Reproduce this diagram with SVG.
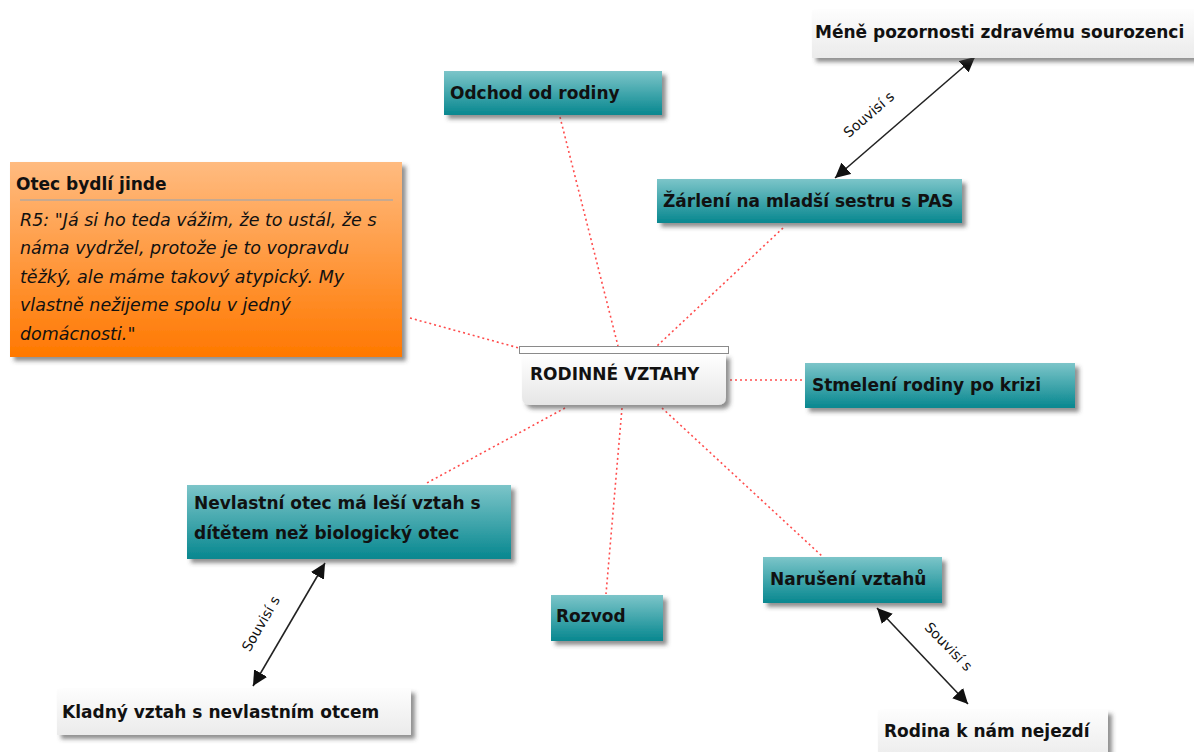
<svg xmlns="http://www.w3.org/2000/svg" width="1194" height="752" viewBox="0 0 1194 752">
  <defs>
    <linearGradient id="teal" x1="0" y1="0" x2="0" y2="1">
      <stop offset="0" stop-color="#7cc5c9"/>
      <stop offset="1" stop-color="#07878f"/>
    </linearGradient>
    <linearGradient id="orange" x1="0" y1="0" x2="0" y2="1">
      <stop offset="0" stop-color="#ffbb80"/>
      <stop offset="1" stop-color="#ff7800"/>
    </linearGradient>
    <linearGradient id="grey" x1="0" y1="0" x2="0" y2="1">
      <stop offset="0" stop-color="#fdfdfd"/>
      <stop offset="1" stop-color="#ebebeb"/>
    </linearGradient>
    <linearGradient id="core" x1="0" y1="0" x2="0" y2="1">
      <stop offset="0" stop-color="#ffffff"/>
      <stop offset="1" stop-color="#e6e6e6"/>
    </linearGradient>
    <filter id="shadow" x="-10%" y="-20%" width="125%" height="150%">
      <feDropShadow dx="4" dy="4" stdDeviation="2" flood-color="#444" flood-opacity="0.6"/>
    </filter>
    <marker id="head" viewBox="0 0 10 10" refX="10" refY="5" markerWidth="15" markerHeight="15" markerUnits="userSpaceOnUse" orient="auto-start-reverse">
      <path d="M0,0 L10,5 L0,10 Z" fill="#111"/>
    </marker>
    <style>
      .lbl { font-family: "DejaVu Sans", "Noto Sans", sans-serif; font-weight: bold; font-size: 17px; fill: #111; }
      .quote { font-family: "DejaVu Sans", "Noto Sans", sans-serif; font-style: italic; font-size: 17.5px; fill: #111; }
      .rel { font-family: "DejaVu Sans", "Noto Sans", sans-serif; font-size: 14px; fill: #111; }
      .dot { stroke: #ff4d4d; stroke-width: 1.6; stroke-dasharray: 2 3; fill: none; }
      .link { stroke: #222; stroke-width: 1.6; fill: none; marker-start: url(#head); marker-end: url(#head); }
      .tealbox { fill: url(#teal); filter: url(#shadow); }
      .greybox { fill: url(#grey); filter: url(#shadow); }
    </style>
  </defs>

  <!-- connectors -->
  <g id="connectors">
    <line class="dot" x1="410" y1="318" x2="519" y2="348"/>
    <line class="dot" x1="560" y1="117" x2="618" y2="346"/>
    <line class="dot" x1="783" y1="228" x2="657" y2="346"/>
    <line class="dot" x1="730" y1="380" x2="805" y2="380"/>
    <line class="dot" x1="662" y1="408" x2="823" y2="557"/>
    <line class="dot" x1="622" y1="408" x2="606" y2="594"/>
    <line class="dot" x1="565" y1="408" x2="425" y2="484"/>

    <line class="link" x1="975" y1="57" x2="835" y2="178"/>
    <text class="rel" transform="translate(872,118) rotate(-41)" text-anchor="middle">Souvisí s</text>

    <line class="link" x1="325" y1="563" x2="253" y2="686"/>
    <text class="rel" transform="translate(265,626) rotate(-60)" text-anchor="middle">Souvisí s</text>

    <line class="link" x1="877" y1="608" x2="968" y2="704"/>
    <text class="rel" transform="translate(945,650) rotate(46)" text-anchor="middle">Souvisí s</text>
  </g>

  <!-- central topic -->
  <g id="node-center">
    <path d="M522,354 H726 V397 Q726,405 718,405 H530 Q522,405 522,397 Z" fill="url(#core)" filter="url(#shadow)"/>
    <rect x="519.5" y="346.5" width="209" height="7" fill="#ffffff" stroke="#8a8a8a" stroke-width="1"/>
    <text class="lbl" x="530" y="380">RODINNÉ VZTAHY</text>
  </g>

  <g id="node-otec">
    <rect x="10" y="162" width="392" height="195" fill="url(#orange)" filter="url(#shadow)"/>
    <text class="lbl" x="16" y="190">Otec bydlí jinde</text>
    <line x1="20" y1="200" x2="393" y2="200" stroke="#8fa3b5" stroke-width="1.2"/>
    <text class="quote" x="20" y="226">R5: "Já si ho teda vážim, že to ustál, že s</text>
    <text class="quote" x="20" y="254">náma vydržel, protože je to vopravdu</text>
    <text class="quote" x="20" y="283">těžký, ale máme takový atypický. My</text>
    <text class="quote" x="20" y="311">vlastně nežijeme spolu v jedný</text>
    <text class="quote" x="20" y="340">domácnosti."</text>
  </g>

  <g id="node-odchod">
    <rect class="tealbox" x="444" y="71" width="218" height="44"/>
    <text class="lbl" x="450" y="99">Odchod od rodiny</text>
  </g>

  <g id="node-zarleni">
    <rect class="tealbox" x="657" y="179" width="305" height="44"/>
    <text class="lbl" x="663" y="207">Žárlení na mladší sestru s PAS</text>
  </g>

  <g id="node-mene">
    <rect class="greybox" x="812" y="10" width="390" height="48"/>
    <text class="lbl" x="815" y="38">Méně pozornosti zdravému sourozenci</text>
  </g>

  <g id="node-stmeleni">
    <rect class="tealbox" x="805" y="363" width="270" height="45"/>
    <text class="lbl" x="812" y="391">Stmelení rodiny po krizi</text>
  </g>

  <g id="node-nevlastni">
    <rect class="tealbox" x="187" y="485" width="324" height="74"/>
    <text class="lbl" x="194" y="509">Nevlastní otec má leší vztah s</text>
    <text class="lbl" x="194" y="539">dítětem než biologický otec</text>
  </g>

  <g id="node-kladny">
    <rect class="greybox" x="57" y="689" width="354" height="46"/>
    <text class="lbl" x="62" y="718">Kladný vztah s nevlastním otcem</text>
  </g>

  <g id="node-rozvod">
    <rect class="tealbox" x="551" y="595" width="112" height="46"/>
    <text class="lbl" x="556" y="622">Rozvod</text>
  </g>

  <g id="node-naruseni">
    <rect class="tealbox" x="763" y="557" width="179" height="46"/>
    <text class="lbl" x="770" y="585">Narušení vztahů</text>
  </g>

  <g id="node-rodina">
    <rect class="greybox" x="878" y="710" width="230" height="50"/>
    <text class="lbl" x="884" y="737">Rodina k nám nejezdí</text>
  </g>
</svg>
